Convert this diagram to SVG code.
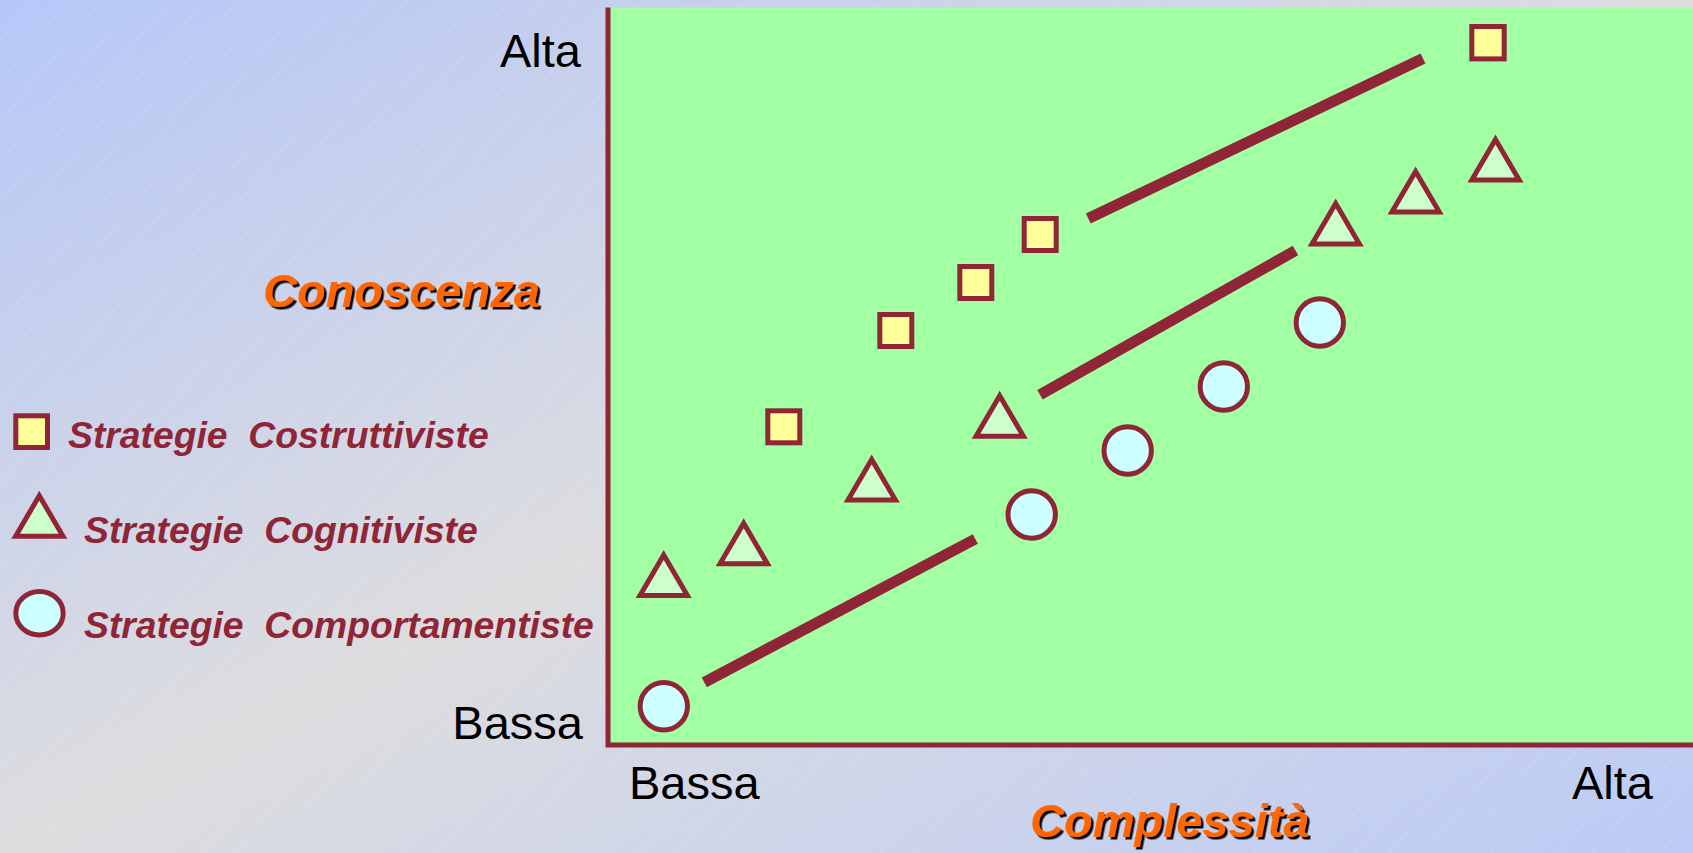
<svg xmlns="http://www.w3.org/2000/svg" width="1693" height="853" viewBox="0 0 1693 853">
  <defs>
    <linearGradient id="bg" x1="0" y1="0" x2="1" y2="1">
      <stop offset="0" stop-color="#b6c7f8"/>
      <stop offset="0.5" stop-color="#dddddf"/>
      <stop offset="1" stop-color="#bccbf6"/>
    </linearGradient>
    <pattern id="hatch" width="26" height="26" patternUnits="userSpaceOnUse" patternTransform="rotate(40)">
      <line x1="0" y1="0" x2="0" y2="26" stroke="#ffffff" stroke-width="1" stroke-opacity="0.25"/>
    </pattern>
    <filter id="shadow" x="-5%" y="-10%" width="115%" height="130%">
      <feDropShadow dx="2.5" dy="2.5" stdDeviation="0" flood-color="#000000" flood-opacity="1"/>
    </filter>
    <path id="tri" d="M0,5 L23.7,45.5 L-23.7,45.5 Z"/>
  </defs>
  <style>
    .sq { fill: #ffff99; stroke: #902537; stroke-width: 5; }
    .tr { fill: #ccffcc; stroke: #902537; stroke-width: 5; stroke-linejoin: miter; }
    .ci { fill: #ccffff; stroke: #902537; stroke-width: 5; }
    .ln { stroke: #902537; stroke-width: 11; stroke-linecap: butt; fill: none; }
    .ax { font-family: "Liberation Sans", Arial, sans-serif; font-size: 47px; fill: #000000; }
    .ttl { font-family: "Liberation Sans", Arial, sans-serif; font-size: 47px; font-weight: bold; font-style: italic; fill: #ff6600; filter: url(#shadow); }
    .lg { font-family: "Liberation Sans", Arial, sans-serif; font-size: 37.3px; font-weight: bold; font-style: italic; fill: #902537; }
  </style>

  <rect x="0" y="0" width="1693" height="853" fill="url(#bg)"/>
  <rect x="0" y="0" width="1693" height="853" fill="url(#hatch)"/>

  <g id="plot-area">
    <rect x="608" y="7.5" width="1085" height="737.5" fill="#a3ffa3"/>
    <path d="M608,7.5 V745 H1693" fill="none" stroke="#902537" stroke-width="5"/>
  </g>

  <g id="axis-labels">
    <text class="ax" x="581" y="67" text-anchor="end">Alta</text>
    <text class="ax" x="583" y="739" text-anchor="end">Bassa</text>
    <text class="ax" x="629" y="799">Bassa</text>
    <text class="ax" x="1572" y="799">Alta</text>
  </g>
  <g id="title-y"><text class="ttl" x="263" y="307">Conoscenza</text></g>
  <g id="title-x"><text class="ttl" x="1030" y="837">Complessità</text></g>

  <g id="connectors">
    <line class="ln" x1="704.3" y1="682.3" x2="975.3" y2="539"/>
    <line class="ln" x1="1040" y1="394.7" x2="1295.5" y2="250.5"/>
    <line class="ln" x1="1088.3" y1="218.5" x2="1423" y2="58.5"/>
  </g>

  <g id="squares">
    <g id="sq1"><rect class="sq" x="767.8" y="410.8" width="32" height="32"/></g>
    <g id="sq2"><rect class="sq" x="879.8" y="314.5" width="32" height="32"/></g>
    <g id="sq3"><rect class="sq" x="959.8" y="266.5" width="32" height="32"/></g>
    <g id="sq4"><rect class="sq" x="1024.2" y="218.5" width="32" height="32"/></g>
    <g id="sq5"><rect class="sq" x="1471.8" y="26.5" width="32.4" height="32.4"/></g>
  </g>

  <g id="triangles">
    <g id="tr1"><use href="#tri" class="tr" x="663.7" y="550"/></g>
    <g id="tr2"><use href="#tri" class="tr" x="743.7" y="518.3"/></g>
    <g id="tr3"><use href="#tri" class="tr" x="871.7" y="454.5"/></g>
    <g id="tr4"><use href="#tri" class="tr" x="999.7" y="390.7"/></g>
    <g id="tr5"><use href="#tri" class="tr" x="1335.7" y="198.5"/></g>
    <g id="tr6"><use href="#tri" class="tr" x="1415.6" y="166.5"/></g>
    <g id="tr7"><use href="#tri" class="tr" x="1495.5" y="134.5"/></g>
  </g>

  <g id="circles">
    <g id="ci1"><circle class="ci" cx="663.8" cy="706.2" r="23.7"/></g>
    <g id="ci2"><circle class="ci" cx="1031.7" cy="514.5" r="23.7"/></g>
    <g id="ci3"><circle class="ci" cx="1127.7" cy="450.5" r="23.7"/></g>
    <g id="ci4"><circle class="ci" cx="1223.8" cy="386.5" r="23.7"/></g>
    <g id="ci5"><circle class="ci" cx="1319.8" cy="322.5" r="23.7"/></g>
  </g>

  <g id="legend-costruttiviste">
    <rect class="sq" x="15.8" y="415.8" width="31.7" height="31.7"/>
    <text class="lg" x="68" y="448" xml:space="preserve">Strategie  Costruttiviste</text>
  </g>
  <g id="legend-cognitiviste">
    <use href="#tri" class="tr" x="39.3" y="490.7"/>
    <text class="lg" x="84" y="543" xml:space="preserve">Strategie  Cognitiviste</text>
  </g>
  <g id="legend-comportamentiste">
    <ellipse class="ci" cx="39.5" cy="613.3" rx="23.7" ry="21.7"/>
    <text class="lg" x="84" y="638" xml:space="preserve">Strategie  Comportamentiste</text>
  </g>
</svg>
